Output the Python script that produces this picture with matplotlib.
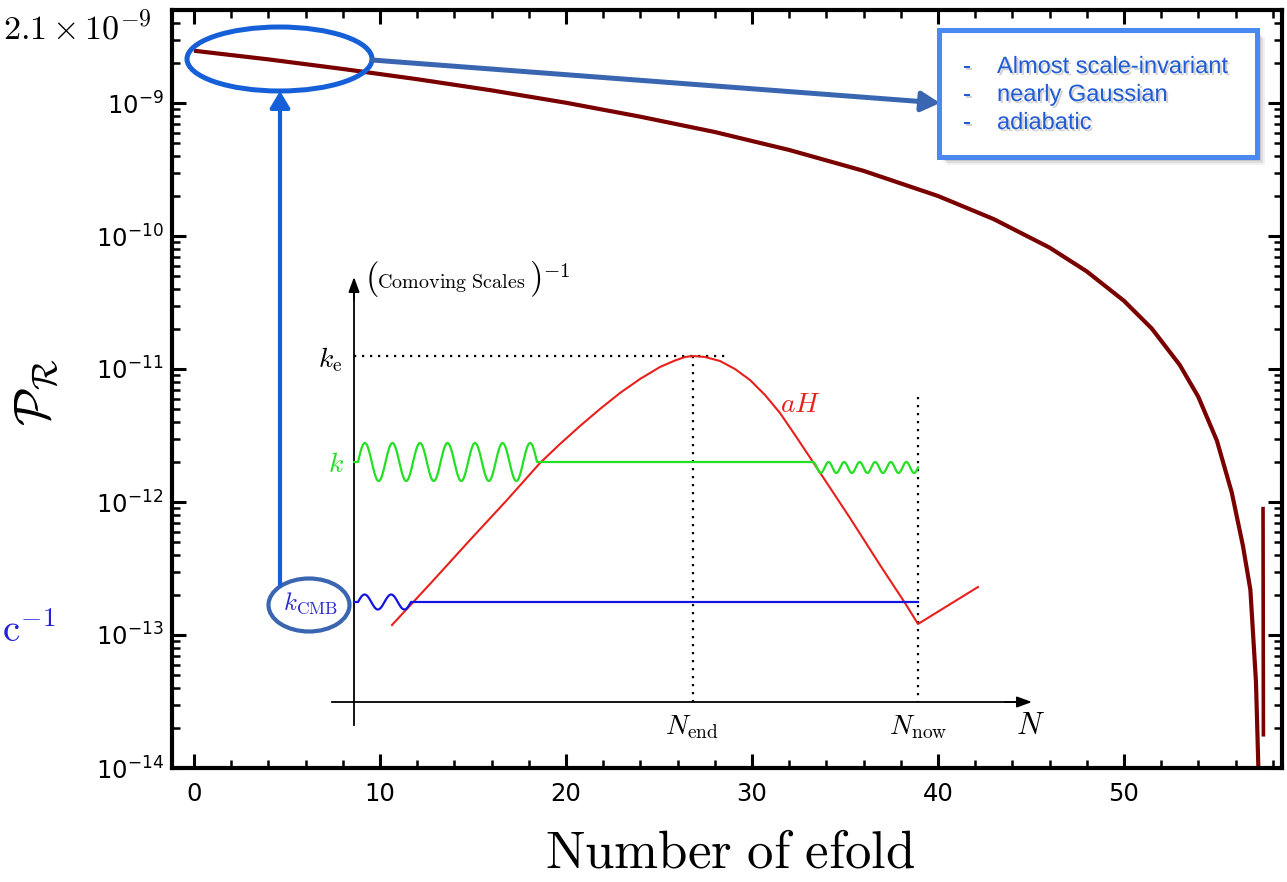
import numpy as np
import matplotlib
matplotlib.use("Agg")
import matplotlib.pyplot as plt
from matplotlib.patches import Ellipse, Rectangle, FancyArrowPatch
import matplotlib.patheffects as pe
from matplotlib.ticker import MultipleLocator, LogLocator, NullFormatter

plt.rcParams['mathtext.fontset'] = 'dejavusans'
plt.rcParams['font.family'] = ['DejaVu Sans']

# ---------------- main curve data ----------------
efolds = [0, 4, 8, 12, 16, 20, 24, 28, 32, 36, 40, 43, 46, 48, 50, 51.5,
          53, 54, 55, 55.8, 56.4, 56.8, 57.1, 57.25, 57.32]
log_power = [-8.607, -8.672, -8.744, -8.821, -8.905, -8.998, -9.103, -9.218,
             -9.353, -9.510, -9.699, -9.873, -10.087, -10.266, -10.487,
             -10.696, -10.969, -11.209, -11.539, -11.929, -12.33, -12.66,
             -13.35, -14.1, -14.6]
spike_efolds = [57.48, 57.50]
spike_log_power = [-12.05, -13.75]

xticks_major = [0, 10, 20, 30, 40, 50]

# ---------------- schematic inset (picture pixel units) ----------------
aH_x = [392, 430, 470, 507, 540, 560, 580, 600, 620, 640, 660, 675, 685, 693,
        705, 720, 735, 750, 765, 780, 795, 813, 850, 880, 905, 918, 978]
aH_y = [625, 584, 540, 500, 463, 444, 426, 409, 393, 379, 367, 360.5, 357, 356,
        357, 361, 369, 380, 395, 413, 435, 462, 518, 565, 603, 624, 587]
k_level = 462
kcmb_level = 602
ke_level = 356
axis_origin = (354, 702)
N_end_x = 693
N_now_x = 918

RED = '#e8201c'
GREEN = '#22e022'
BLUE = '#1414e0'
CURVE = '#7a0000'

fig = plt.figure(figsize=(12.87, 8.82), dpi=100)
W, H = 1287, 882

ax = fig.add_axes([172 / W, 1 - 768 / H, (1282 - 172) / W, (768 - 10) / H])
ax.plot(efolds, 10 ** np.array(log_power), color=CURVE, lw=3.0, solid_capstyle='butt')
ax.plot(spike_efolds, 10 ** np.array(spike_log_power), color=CURVE, lw=2.6)
ax.set_yscale('log')
ax.set_xlim(-1.18, 58.5)
ax.set_ylim(1e-14, 10 ** (-9 + 93 / 133))
ax.set_xticks(xticks_major)
ax.xaxis.set_minor_locator(MultipleLocator(2))
ax.yaxis.set_major_locator(LogLocator(base=10, numticks=20))
ax.yaxis.set_minor_locator(LogLocator(base=10, subs=np.arange(2, 10), numticks=20))
ax.yaxis.set_minor_formatter(NullFormatter())
ax.tick_params(which='both', direction='in', top=True, right=True)
ax.tick_params(which='major', length=10, width=2.2, labelsize=17.5)
ax.tick_params(axis='x', which='major', pad=10)
ax.tick_params(axis='y', which='major', pad=6)
ax.tick_params(which='minor', length=6, width=1.8)
for s in ax.spines.values():
    s.set_linewidth(3)

# axis labels
fig.text(37 / W, 1 - 392 / H, r'$\mathcal{P}_\mathcal{R}$', rotation=90, fontsize=36,
         math_fontfamily='cm', ha='center', va='center')
fig.text(730 / W, 1 - 853 / H, r'$\mathrm{Number\ of\ efold}$', fontsize=38,
         math_fontfamily='cm', ha='center', va='center')

# ---------------- overlay in pixel coordinates ----------------
ov = fig.add_axes([0, 0, 1, 1], zorder=5)
ov.set_xlim(0, W)
ov.set_ylim(H, 0)
ov.axis('off')
ov.patch.set_alpha(0)

# stray labels from the source slide
ov.text(152, 39, r'$2.1\times10^{-9}$', fontsize=24.5, math_fontfamily='cm',
        ha='right', va='baseline', color='black')
ov.text(2, 642, r'$\mathrm{c}^{-1}$', fontsize=28, math_fontfamily='cm',
        ha='left', va='baseline', color='#2222dd')


def arrow(p0, p1, style, ms, color, lw):
    ov.add_patch(FancyArrowPatch(p0, p1, arrowstyle=style, mutation_scale=ms,
                                 color=color, lw=lw, shrinkA=0, shrinkB=0))


# inset axes
ox, oy = axis_origin
ov.plot([ox, ox], [725, 290], color='black', lw=1.3)
arrow((ox, 300), (ox, 277), '-|>,head_length=0.6,head_width=0.22', 15, 'black', 1.3)
ov.plot([332, 1020], [oy, oy], color='black', lw=1.3)
arrow((1005, oy), (1032, oy), '-|>,head_length=0.6,head_width=0.22', 15, 'black', 1.3)

dot = (0, (1, 2.6))
ov.plot([ox, 730], [ke_level, ke_level], color='black', lw=1.6, ls=dot)
ov.plot([N_end_x, N_end_x], [ke_level, oy], color='black', lw=1.6, ls=dot)
ov.plot([N_now_x, N_now_x], [397, oy], color='black', lw=1.6, ls=dot)

# aH curve
ov.plot(aH_x, aH_y, color=RED, lw=1.5)

# green mode k
t = np.linspace(0, 1, 300)
g1x = 358 + (537 - 358) * t
g1y = k_level - 19 * np.sin(2 * np.pi * 6.5 * t)
ov.plot(np.concatenate([[ox], g1x, [813]]), np.concatenate([[k_level], g1y, [k_level]]),
        color=GREEN, lw=1.6)
g2x = 813 + (918 - 813) * t
g2y = k_level + 5.5 * (1 - np.cos(2 * np.pi * 6.75 * t))
ov.plot(g2x, g2y, color=GREEN, lw=1.6)

# blue mode k_CMB
b1x = 358 + (411 - 358) * t
b1y = kcmb_level - 7.5 * np.sin(2 * np.pi * 2 * t)
ov.plot(np.concatenate([[ox], b1x, [N_now_x]]), np.concatenate([[kcmb_level], b1y, [kcmb_level]]),
        color=BLUE, lw=1.6)

# inset labels
ov.text(365, 279, r'$($', fontsize=25, math_fontfamily='cm', ha='left', va='center')
ov.text(377, 288, r'$\mathrm{Comoving\ Scales}$', fontsize=14.5, math_fontfamily='cm',
        ha='left', va='baseline')
ov.text(529, 279, r'$)$', fontsize=25, math_fontfamily='cm', ha='left', va='center')
ov.text(543, 277, r'$-1$', fontsize=15, math_fontfamily='cm', ha='left', va='baseline')
ov.text(330, 360, r'$k_\mathrm{e}$', fontsize=20, math_fontfamily='cm', ha='center', va='center')
ov.text(336, 464, r'$k$', fontsize=20, math_fontfamily='cm', ha='center', va='center', color=GREEN)
ov.text(311, 603, r'$k_\mathrm{CMB}$', fontsize=18, math_fontfamily='cm', ha='center',
        va='center', color='#2a2ad0')
ov.text(801, 404, r'$aH$', fontsize=20, math_fontfamily='cm', ha='center', va='center', color=RED)
ov.text(692, 727, r'$N_\mathrm{end}$', fontsize=20, math_fontfamily='cm', ha='center', va='center')
ov.text(918, 727, r'$N_\mathrm{now}$', fontsize=20, math_fontfamily='cm', ha='center', va='center')
ov.text(1031, 725, r'$N$', fontsize=22, math_fontfamily='cm', ha='center', va='center')

# annotations
ov.add_patch(Ellipse((279.5, 59), 185, 64, fill=False, ec='#1560d8', lw=3.6))
ov.add_patch(Ellipse((309, 605), 81, 53, fill=False, ec='#3a65b0', lw=3.0))
arrow((280, 585), (280, 91), '-|>,head_length=0.5,head_width=0.3', 20, '#1560d8', 3.0)
arrow((372, 60), (940, 103), '-|>,head_length=0.55,head_width=0.3', 20, '#3a65b0', 3.6)

# text box with shadow
for i, a in enumerate([0.06, 0.08, 0.10, 0.12]):
    off = 8 - 2 * i
    ov.add_patch(Rectangle((939 + off, 30 + off), 318, 127, fc='black', ec='none',
                           alpha=a, zorder=6))
ov.add_patch(Rectangle((939, 30), 318, 127, fc='white', ec='#4a8af0', lw=3.6, zorder=7))
lines = ['Almost scale-invariant', 'nearly Gaussian', 'adiabatic']
shadow = [pe.SimplePatchShadow(offset=(1.5, -1.5), shadow_rgbFace='gray', alpha=0.35), pe.Normal()]
for i, s in enumerate(lines):
    yy = 67 + 28 * i
    ov.text(963, yy, '-', fontsize=17, family='Liberation Sans', color='#1f5bd6',
            ha='left', va='center', zorder=8, path_effects=shadow)
    ov.text(997, yy, s, fontsize=17, family='Liberation Sans', color='#1f5bd6',
            ha='left', va='center', zorder=8, path_effects=shadow)

fig.savefig('out.png', dpi=100)
